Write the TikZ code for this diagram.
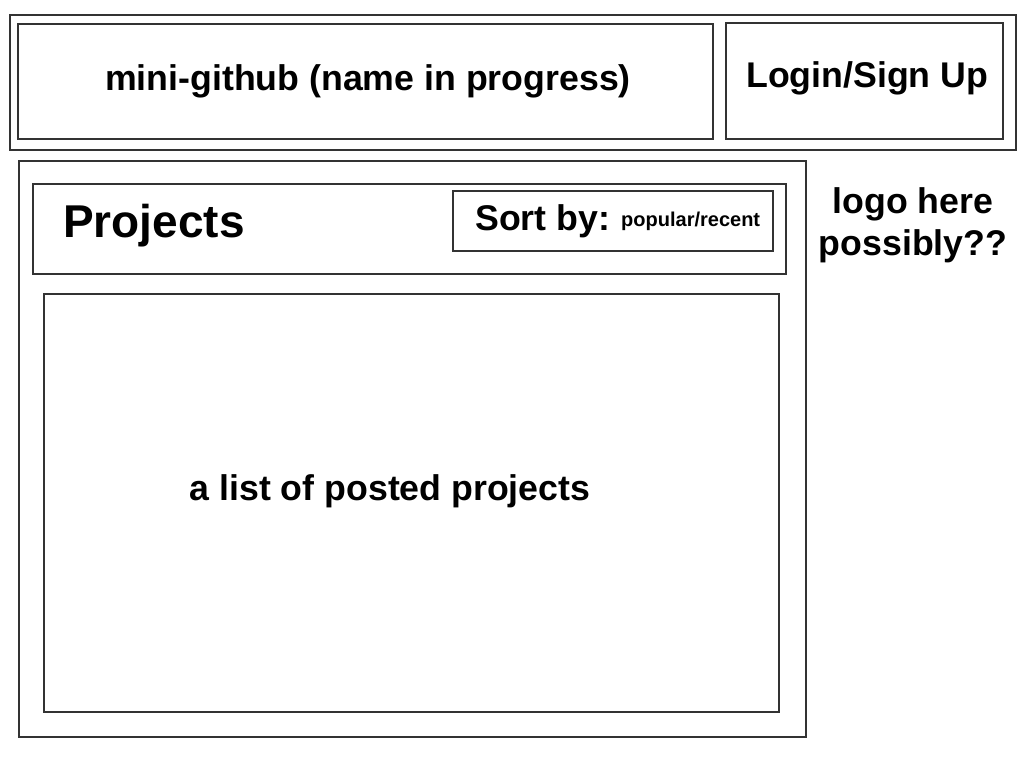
\documentclass[tikz,border=0pt]{standalone}
\usepackage{fontspec}
\setmainfont{Liberation Sans}
\begin{document}
\begin{tikzpicture}[x=1pt,y=-1pt,
  box/.style={draw=black!80,line width=2pt,inner sep=0pt,outer sep=0pt,rectangle},
  lbl/.style={inner sep=0pt,font=\bfseries\fontsize{35.7}{42}\selectfont}]
\useasboundingbox[fill=white] (0,0) rectangle (1024,768);
% boxes
\node[box,minimum width=1006pt,minimum height=135pt] (header) at (513,82.5) {};
\node[box,minimum width=695pt,minimum height=115pt] (titlebox) at (365.5,81.5) {};
\node[box,minimum width=277pt,minimum height=116pt] (loginbox) at (864.5,81) {};
\node[box,minimum width=787pt,minimum height=576pt] (mainbox) at (412.5,449) {};
\node[box,minimum width=753pt,minimum height=90pt] (projbox) at (409.5,229) {};
\node[box,minimum width=320pt,minimum height=60pt] (sortbox) at (613,221) {};
\node[box,minimum width=735pt,minimum height=418pt] (listbox) at (411.5,503) {};
% texts
\node[lbl,anchor=base west] (title) at (105,90) {mini-github (name in progress)};
\node[lbl,anchor=base west] (login) at (746,87) {Login/Sign Up};
\node[lbl,anchor=base west,font=\bfseries\fontsize{46}{50}\selectfont] (projects) at (63,237) {Projects};
\node[lbl,anchor=base west] (sortby) at (475,230) {Sort by:};
\node[lbl,anchor=base west,font=\bfseries\fontsize{20}{24}\selectfont] (sortopt) at (621,226.5) {popular/recent};
\node[lbl,anchor=base] (list) at (390,500) {a list of posted projects};
\node[lbl,anchor=base,align=center] (logo) at (913,255) {logo here\\possibly??};
\end{tikzpicture}
\end{document}
